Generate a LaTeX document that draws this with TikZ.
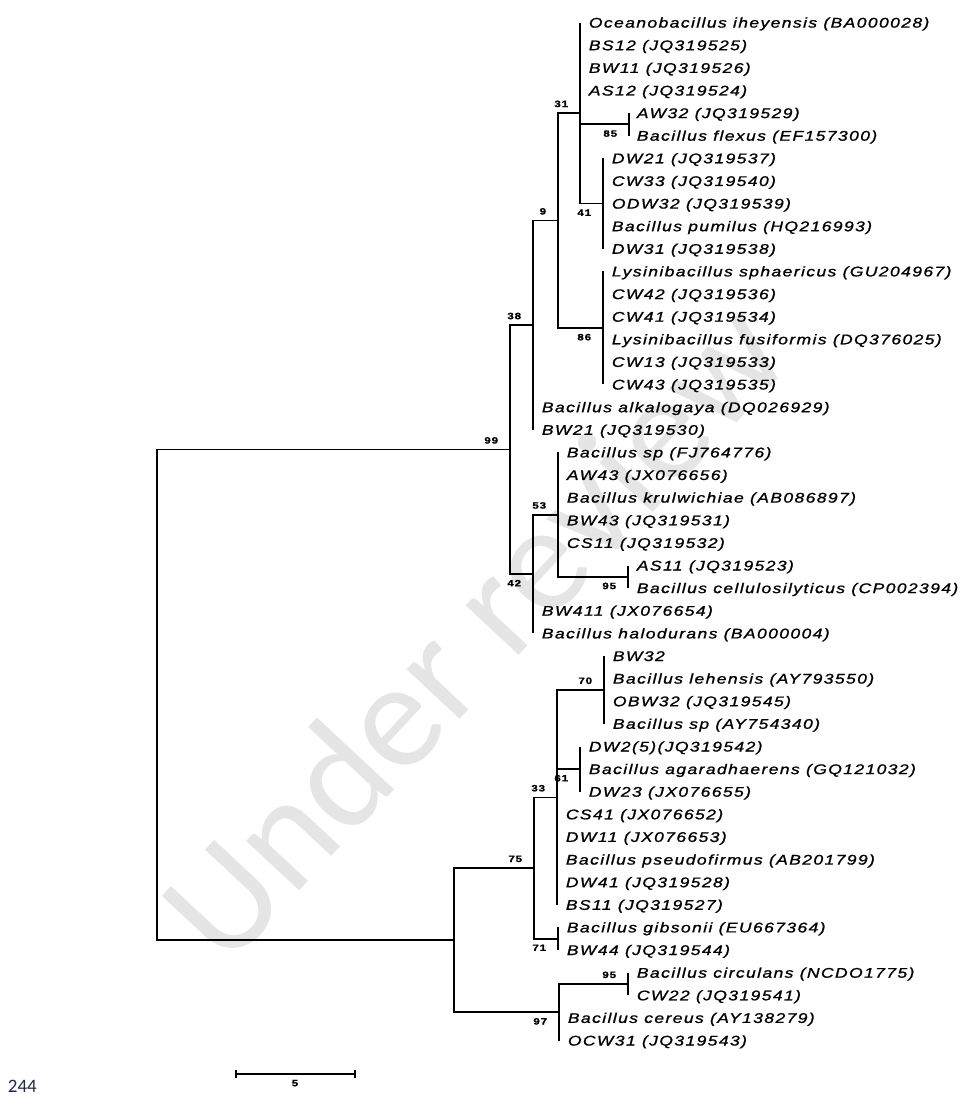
\documentclass[tikz,border=0pt]{standalone}
\usepackage{fontspec}
\newfontfamily\treefont[FakeStretch=1.25,LetterSpace=10,FakeBold=1.1]{Liberation Sans}
\newfontfamily\markfont{Carlito}
\usetikzlibrary{arrows.meta}
\definecolor{colorMark}{gray}{0.9}
\definecolor{colorPage}{RGB}{31,40,70}
\tikzset{
  leaf/.style={anchor=west, inner sep=0pt, text height=5pt, text depth=0pt, font=\treefont\itshape\fontsize{7}{8}\selectfont},
  boot/.style={inner sep=0pt, font=\treefont\bfseries\fontsize{4.6}{5}\selectfont},
  bootup/.style={boot, anchor=south east, xshift=-5.5pt, yshift=2.5pt},
  bootdown/.style={boot, anchor=north east, xshift=-5.5pt, yshift=-2.5pt},
  branch/.style={line width=0.9pt, line join=miter},
}

\begin{document}
\begin{tikzpicture}[x=0.5pt, y=-0.5pt, branch]
\useasboundingbox (0,0) rectangle (960,1095);
\node[rotate=47, inner sep=0pt, text=colorMark, font=\markfont\fontsize{76}{76}\selectfont] (mark) at (472,630) {Under review};

\node[leaf] (l1) at (588,22.6) {Oceanobacillus iheyensis (BA000028)};
\node[leaf] (l2) at (588,45.2) {BS12 (JQ319525)};
\node[leaf] (l3) at (588,67.9) {BW11 (JQ319526)};
\node[leaf] (l4) at (588,90.5) {AS12 (JQ319524)};
\node[leaf] (l5) at (636,113.1) {AW32 (JQ319529)};
\node[leaf] (l6) at (636,135.7) {Bacillus flexus (EF157300)};
\node[leaf] (l7) at (611,158.3) {DW21 (JQ319537)};
\node[leaf] (l8) at (611,181.0) {CW33 (JQ319540)};
\node[leaf] (l9) at (611,203.6) {ODW32 (JQ319539)};
\node[leaf] (l10) at (611,226.2) {Bacillus pumilus (HQ216993)};
\node[leaf] (l11) at (611,248.8) {DW31 (JQ319538)};
\node[leaf] (l12) at (611,271.4) {Lysinibacillus sphaericus (GU204967)};
\node[leaf] (l13) at (611,294.1) {CW42 (JQ319536)};
\node[leaf] (l14) at (611,316.7) {CW41 (JQ319534)};
\node[leaf] (l15) at (611,339.3) {Lysinibacillus fusiformis (DQ376025)};
\node[leaf] (l16) at (611,361.9) {CW13 (JQ319533)};
\node[leaf] (l17) at (611,384.5) {CW43 (JQ319535)};
\node[leaf] (l18) at (541,407.2) {Bacillus alkalogaya (DQ026929)};
\node[leaf] (l19) at (541,429.8) {BW21 (JQ319530)};
\node[leaf] (l20) at (566,452.4) {Bacillus sp (FJ764776)};
\node[leaf] (l21) at (566,475.0) {AW43 (JX076656)};
\node[leaf] (l22) at (566,497.6) {Bacillus krulwichiae (AB086897)};
\node[leaf] (l23) at (566,520.3) {BW43 (JQ319531)};
\node[leaf] (l24) at (566,542.9) {CS11 (JQ319532)};
\node[leaf] (l25) at (636,565.5) {AS11 (JQ319523)};
\node[leaf] (l26) at (636,588.1) {Bacillus cellulosilyticus (CP002394)};
\node[leaf] (l27) at (541,610.7) {BW411 (JX076654)};
\node[leaf] (l28) at (541,633.4) {Bacillus halodurans (BA000004)};
\node[leaf] (l29) at (612,656.0) {BW32};
\node[leaf] (l30) at (612,678.6) {Bacillus lehensis (AY793550)};
\node[leaf] (l31) at (612,701.2) {OBW32 (JQ319545)};
\node[leaf] (l32) at (612,723.8) {Bacillus sp (AY754340)};
\node[leaf] (l33) at (588,746.5) {DW2(5)(JQ319542)};
\node[leaf] (l34) at (588,769.1) {Bacillus agaradhaerens (GQ121032)};
\node[leaf] (l35) at (588,791.7) {DW23 (JX076655)};
\node[leaf] (l36) at (565,814.3) {CS41 (JX076652)};
\node[leaf] (l37) at (565,836.9) {DW11 (JX076653)};
\node[leaf] (l38) at (565,859.6) {Bacillus pseudofirmus (AB201799)};
\node[leaf] (l39) at (565,882.2) {DW41 (JQ319528)};
\node[leaf] (l40) at (565,904.8) {BS11 (JQ319527)};
\node[leaf] (l41) at (566,927.4) {Bacillus gibsonii (EU667364)};
\node[leaf] (l42) at (566,950.0) {BW44 (JQ319544)};
\node[leaf] (l43) at (636,972.7) {Bacillus circulans (NCDO1775)};
\node[leaf] (l44) at (636,995.3) {CW22 (JQ319541)};
\node[leaf] (l45) at (567,1017.9) {Bacillus cereus (AY138279)};
\node[leaf] (l46) at (567,1040.5) {OCW31 (JQ319543)};

\coordinate (root) at (157,694.9);
\coordinate (n99) at (510,449.6);
\coordinate (n38) at (533,325.2);
\coordinate (n9) at (558,220.5);
\coordinate (n31) at (580,113.1);
\coordinate (n85) at (629,124.4);
\coordinate (n41) at (603,203.6);
\coordinate (n86) at (603,328.0);
\coordinate (n42) at (533,574.0);
\coordinate (n53) at (558,514.6);
\coordinate (n95a) at (628,576.8);
\coordinate (nX) at (454,940.1);
\coordinate (n75) at (534,868.0);
\coordinate (n33) at (557,797.4);
\coordinate (n70) at (604,689.9);
\coordinate (n61) at (580,769.1);
\coordinate (n71) at (558,938.7);
\coordinate (n97) at (559,1012.2);
\coordinate (n95b) at (628,984.0);

\draw (n99) -| (root) |- (nX);
\draw (n38) -| (n99) |- (n42);
\draw (n9) -| (n38 |- l19);
\draw (n31) -| (n9) |- (n86);
\draw (n31 |- l1) |- (n41);
\draw (n31 |- n85) -- (n85);
\draw (n85 |- l5) -- (n85 |- l6);
\draw (n41 |- l7) -- (n41 |- l11);
\draw (n86 |- l12) -- (n86 |- l17);
\draw (n53) -| (n42 |- l28);
\draw (n53 |- l20) |- (n95a);
\draw (n95a |- l25) -- (n95a |- l26);
\draw (n75) -| (nX) |- (n97);
\draw (n33) -| (n75) |- (n71);
\draw (n70) -| (n33 |- l40);
\draw (n33 |- n61) -- (n61);
\draw (n70 |- l29) -- (n70 |- l32);
\draw (n61 |- l33) -- (n61 |- l35);
\draw (n71 |- l41) -- (n71 |- l42);
\draw (n95b) -| (n97 |- l46);
\draw (n95b |- l43) -- (n95b |- l44);

\node[bootup] (b99) at (n99) {99};
\node[bootup] (b38) at (n38) {38};
\node[bootup] (b9) at (n9) {9};
\node[bootup] (b31) at (n31) {31};
\node[bootdown] (b85) at (n85) {85};
\node[bootdown] (b41) at (n41) {41};
\node[bootdown] (b86) at (n86) {86};
\node[bootdown] (b42) at (n42) {42};
\node[bootup] (b53) at (n53) {53};
\node[bootdown] (b95a) at (n95a) {95};
\node[bootup] (b75) at (n75) {75};
\node[bootup] (b33) at (n33) {33};
\node[bootup] (b70) at (n70) {70};
\node[bootdown] (b61) at (n61) {61};
\node[bootdown] (b71) at (n71) {71};
\node[bootdown] (b97) at (n97) {97};
\node[bootup] (b95b) at (n95b) {95};

\coordinate (sbl) at (235,1074);
\coordinate (sbr) at (356,1074);
\draw[line width=1.1pt, {Bar[width=4pt]}-{Bar[width=4pt]}] (sbl) -- (sbr);
\node[boot, anchor=north] (sbt) at (295,1079) {5};
\node[anchor=base west, inner sep=0pt, text=colorPage, font=\markfont\fontsize{9.5}{10}\selectfont] (page) at (7,1092) {244};
\end{tikzpicture}
\end{document}
